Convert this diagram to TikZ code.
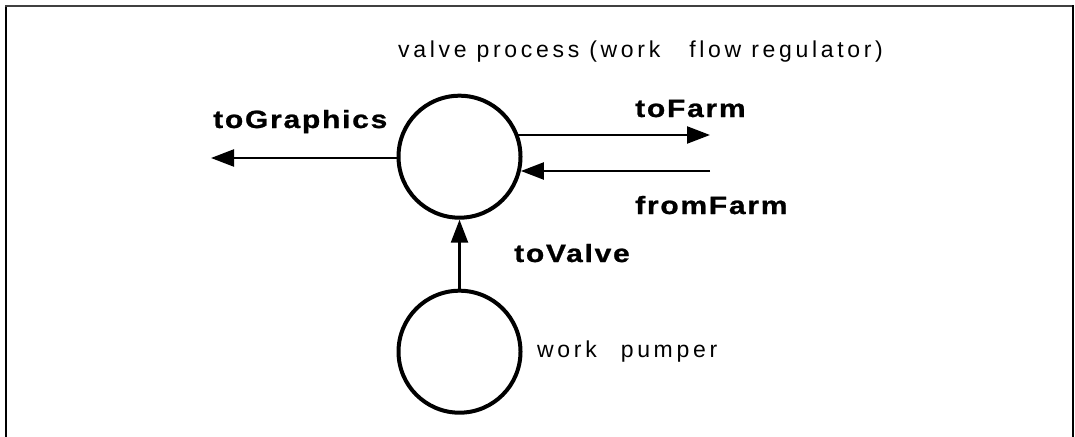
\documentclass[tikz,border=0pt]{standalone}
\usepackage{fontspec}
\setmainfont{Liberation Sans}
\newfontfamily\lblfont{Liberation Sans}[LetterSpace=7,FakeStretch=1.2,FakeBold=1]
\newfontfamily\txtfont{Liberation Sans}[LetterSpace=16]
\usetikzlibrary{arrows.meta}
\tikzset{
  proc/.style={circle, draw, line width=4pt, minimum size=122pt, inner sep=0pt},
  flow/.style={line width=2.3pt, -{Triangle[length=23pt,width=17pt]}},
  lbl/.style={anchor=base west, inner sep=0pt, font=\lblfont\bfseries\fontsize{25}{30}\selectfont},
  txt/.style={anchor=base west, inner sep=0pt, font=\txtfont\fontsize{23}{28}\selectfont},
  frame/.style={line width=1.5pt, line cap=rect}
}
\begin{document}
\begin{tikzpicture}[x=1pt,y=-1pt]
\useasboundingbox (0,0) rectangle (1075,436);
\coordinate (fbl) at (6,436);
\coordinate (ftl) at (6,6);
\coordinate (ftr) at (1073,6);
\coordinate (fbr) at (1073,436);
\draw[frame, line width=2pt] (fbl) -- (ftl);
\draw[frame, black!75] (ftl) -- (ftr);
\draw[frame, line width=1.3pt] (ftr) -- (fbr);

\node[proc] (valve) at (459.5,156.7) {};
\node[proc] (pumper) at (459.5,351.7) {};

\coordinate (tgEnd) at (211,158);
\coordinate (tfEnd) at (710,135);
\coordinate (ffStart) at (710,171);

\draw[flow] (valve.west |- tgEnd) -- (tgEnd);
\draw[flow] (valve.21 |- tfEnd) -- (tfEnd);
\draw[flow] (ffStart) -- (valve.-13.5 |- ffStart);
\draw[flow] (pumper.north) -- (valve.south);

\node[lbl] (lgraph) at (213,128) {toGraphics};
\node[lbl] (lfarm) at (635,117) {toFarm};
\node[lbl] (lfrom) at (635,214) {fromFarm};
\node[lbl] (lvalve) at (514,262) {toValve};
\node[txt] (ltitle) at (398,58) {valve process (work\hspace*{29pt}flow regulator)};
\node[txt] (lpump) at (537,357) {work\hspace*{24pt}pumper};
\end{tikzpicture}
\end{document}
